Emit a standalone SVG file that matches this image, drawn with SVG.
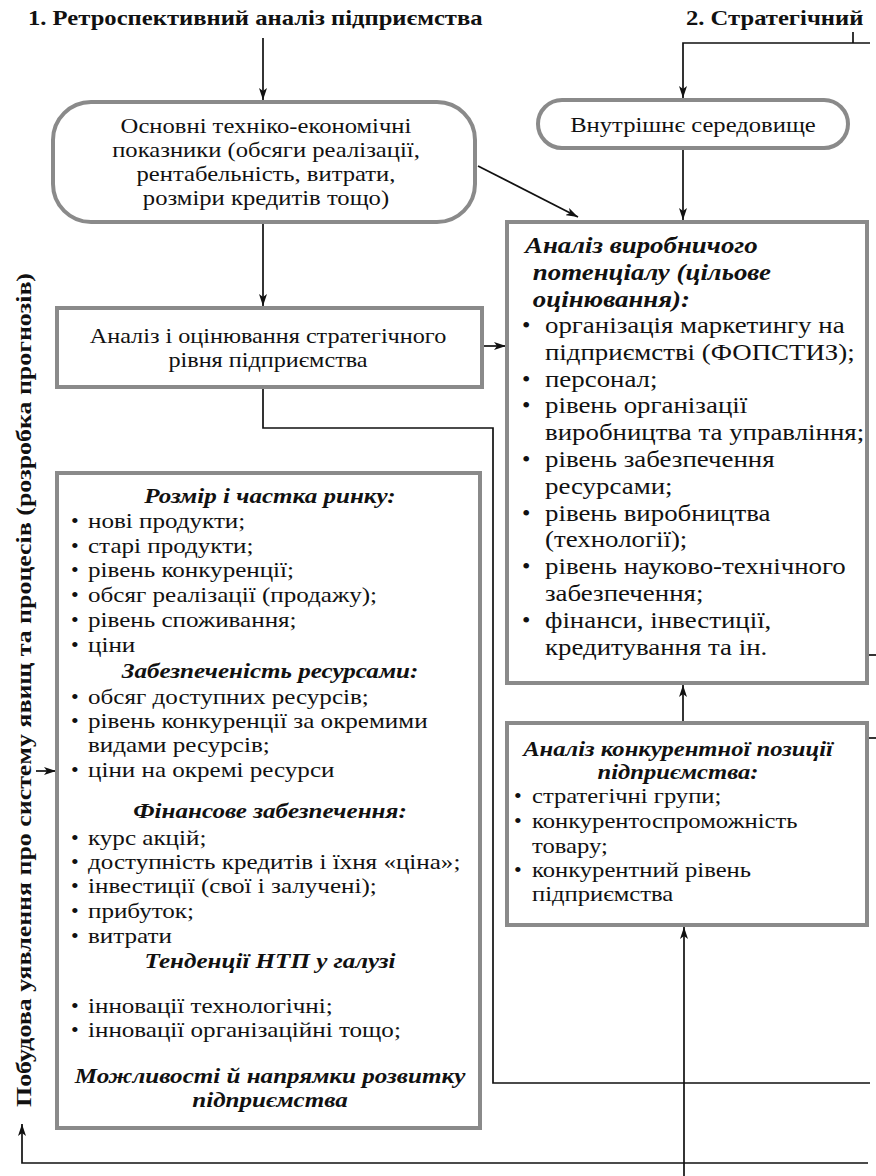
<svg xmlns="http://www.w3.org/2000/svg" width="876" height="1176" viewBox="0 0 876 1176">
<defs>
<marker id="ah" viewBox="0 0 12 8" refX="12" refY="4" markerWidth="12" markerHeight="8" markerUnits="userSpaceOnUse" orient="auto">
<path d="M0,0 L12,4 L0,8 L3,4 Z" fill="#111"/>
</marker>
<style>
text{font-family:'Liberation Serif','DejaVu Serif',serif;fill:#111}
.t{font-size:22px;font-weight:bold}
.b{fill:#fff;stroke:#8a8a8a;stroke-width:4}
.c{fill:none;stroke:#111;stroke-width:1.7}
.n{font-size:22px}
.r{font-size:24px}
.h{font-weight:bold;font-style:italic}
.m{text-anchor:middle}
</style>
</defs>
<rect width="876" height="1176" fill="#fff"/>

<g id="titles">
<text class="t" x="28" y="25" transform="matrix(1.12,0,0,1,-3.36,0)">1. Ретроспективний аналіз підприємства</text>
<text class="t" x="686" y="25" transform="matrix(1.12,0,0,1,-82.32,0)">2. Стратегічний</text>
<text class="t m" transform="translate(31,690) rotate(-90)" textLength="834" lengthAdjust="spacingAndGlyphs">Побудова уявлення про систему явищ та  процесів (розробка прогнозів)</text>
</g>

<g id="connectors">
<line class="c" x1="263" y1="38" x2="263" y2="100" marker-end="url(#ah)"/>
<polyline class="c" points="870,43 683,43 683,98" marker-end="url(#ah)"/>
<line class="c" x1="853" y1="32" x2="853" y2="43"/>
<line class="c" x1="683" y1="148" x2="683" y2="220" marker-end="url(#ah)"/>
<line class="c" x1="478" y1="166" x2="578" y2="217" marker-end="url(#ah)"/>
<line class="c" x1="263" y1="222" x2="263" y2="306" marker-end="url(#ah)"/>
<line class="c" x1="482" y1="346" x2="506" y2="346" marker-end="url(#ah)"/>
<polyline class="c" points="263,387 263,428 493,428 493,1083 870,1083"/>
<line class="c" x1="683" y1="723" x2="683" y2="685" marker-end="url(#ah)"/>
<line class="c" x1="684" y1="1176" x2="684" y2="927" marker-end="url(#ah)"/>
<polyline class="c" points="868,1163 22,1163 22,1124" marker-end="url(#ah)"/>
<line class="c" x1="36" y1="771" x2="56" y2="771" marker-end="url(#ah)"/>
<line class="c" x1="867" y1="655" x2="876" y2="655"/>
<line class="c" x1="867" y1="738" x2="876" y2="738"/>
</g>

<g id="n-basic">
<rect class="b" x="53" y="102" width="422" height="120" rx="38" ry="38"/>
<text class="n m" transform="matrix(1.12,0,0,1,-31.92,0)"><tspan x="266" y="133">Основні техніко-економічні</tspan><tspan x="266" y="157">показники (обсяги реалізації,</tspan><tspan x="266" y="181">рентабельність, витрати,</tspan><tspan x="266" y="205">розміри кредитів тощо)</tspan></text>
</g>

<g id="n-internal">
<rect class="b" x="538" y="100" width="310" height="48" rx="24" ry="24"/>
<text class="n m" x="693" y="132" transform="matrix(1.12,0,0,1,-83.16,0)">Внутрішнє середовище</text>
</g>

<g id="n-strategic-level">
<rect class="b" x="57" y="308" width="425" height="79"/>
<text class="n m" transform="matrix(1.1,0,0,1,-26.8,0)"><tspan x="268" y="343">Аналіз і оцінювання стратегічного</tspan><tspan x="268" y="367">рівня підприємства</tspan></text>
</g>

<g id="n-potential">
<rect class="b" x="507" y="222" width="360" height="461"/>
<g class="r h" transform="matrix(1.12,0,0,1,-63,0)">
<text x="525" y="253">Аналіз виробничого</text>
<text x="532" y="280">потенціалу (цільове</text>
<text x="532" y="307">оцінювання):</text>
</g>
<g class="r">
<text x="522" y="333">•</text>
<text x="522" y="387">•</text>
<text x="522" y="413">•</text>
<text x="522" y="467">•</text>
<text x="522" y="521">•</text>
<text x="522" y="574">•</text>
<text x="522" y="628">•</text>
</g>
<g class="r" transform="matrix(1.12,0,0,1,-65.4,0)">
<text x="545" y="333">організація маркетингу на</text>
<text x="545" y="360">підприємстві (ФОПСТИЗ);</text>
<text x="545" y="387">персонал;</text>
<text x="545" y="413">рівень організації</text>
<text x="545" y="440">виробництва та управління;</text>
<text x="545" y="467">рівень забезпечення</text>
<text x="545" y="494">ресурсами;</text>
<text x="545" y="521">рівень виробництва</text>
<text x="545" y="547">(технології);</text>
<text x="545" y="574">рівень науково-технічного</text>
<text x="545" y="601">забезпечення;</text>
<text x="545" y="628">фінанси, інвестиції,</text>
<text x="545" y="655">кредитування та ін.</text>
</g>
</g>

<g id="n-competitive">
<rect class="b" x="507" y="723" width="360" height="202"/>
<g class="n h m" transform="matrix(1.12,0,0,1,-81.36,0)">
<text x="678" y="756">Аналіз конкурентної позиції</text>
<text x="678" y="779">підприємства:</text>
</g>
<g class="n">
<text x="514" y="803">•</text>
<text x="514" y="828">•</text>
<text x="514" y="877">•</text>
</g>
<g class="n" transform="matrix(1.12,0,0,1,-63.84,0)">
<text x="532" y="803">стратегічні групи;</text>
<text x="532" y="828">конкурентоспроможність</text>
<text x="532" y="853">товару;</text>
<text x="532" y="877">конкурентний рівень</text>
<text x="532" y="901">підприємства</text>
</g>
</g>

<g id="n-market">
<rect class="b" x="57" y="473" width="423" height="655"/>
<g class="n h m" transform="matrix(1.14,0,0,1,-37.8,0)">
<text x="270" y="503">Розмір і частка ринку:</text>
<text x="270" y="678">Забезпеченість ресурсами:</text>
<text x="270" y="818">Фінансове забезпечення:</text>
<text x="270" y="968">Тенденції НТП у галузі</text>
<text x="270" y="1083">Можливості й напрямки розвитку</text>
<text x="270" y="1107">підприємства</text>
</g>
<g class="n">
<text x="71" y="528">•</text>
<text x="71" y="553">•</text>
<text x="71" y="577">•</text>
<text x="71" y="602">•</text>
<text x="71" y="627">•</text>
<text x="71" y="652">•</text>
<text x="71" y="704">•</text>
<text x="71" y="728">•</text>
<text x="71" y="777">•</text>
<text x="71" y="845">•</text>
<text x="71" y="869">•</text>
<text x="71" y="893">•</text>
<text x="71" y="918">•</text>
<text x="71" y="943">•</text>
<text x="71" y="1013">•</text>
<text x="71" y="1037">•</text>
</g>
<g class="n" transform="matrix(1.14,0,0,1,-12.32,0)">
<text x="88" y="528">нові продукти;</text>
<text x="88" y="553">старі продукти;</text>
<text x="88" y="577">рівень конкуренції;</text>
<text x="88" y="602">обсяг реалізації (продажу);</text>
<text x="88" y="627">рівень споживання;</text>
<text x="88" y="652">ціни</text>
<text x="88" y="704">обсяг доступних ресурсів;</text>
<text x="88" y="728">рівень конкуренції за окремими</text>
<text x="88" y="752">видами ресурсів;</text>
<text x="88" y="777">ціни на окремі ресурси</text>
<text x="88" y="845">курс акцій;</text>
<text x="88" y="869">доступність кредитів і їхня «ціна»;</text>
<text x="88" y="893">інвестиції (свої і залучені);</text>
<text x="88" y="918">прибуток;</text>
<text x="88" y="943">витрати</text>
<text x="88" y="1013">інновації технологічні;</text>
<text x="88" y="1037">інновації організаційні тощо;</text>
</g>
</g>
</svg>
